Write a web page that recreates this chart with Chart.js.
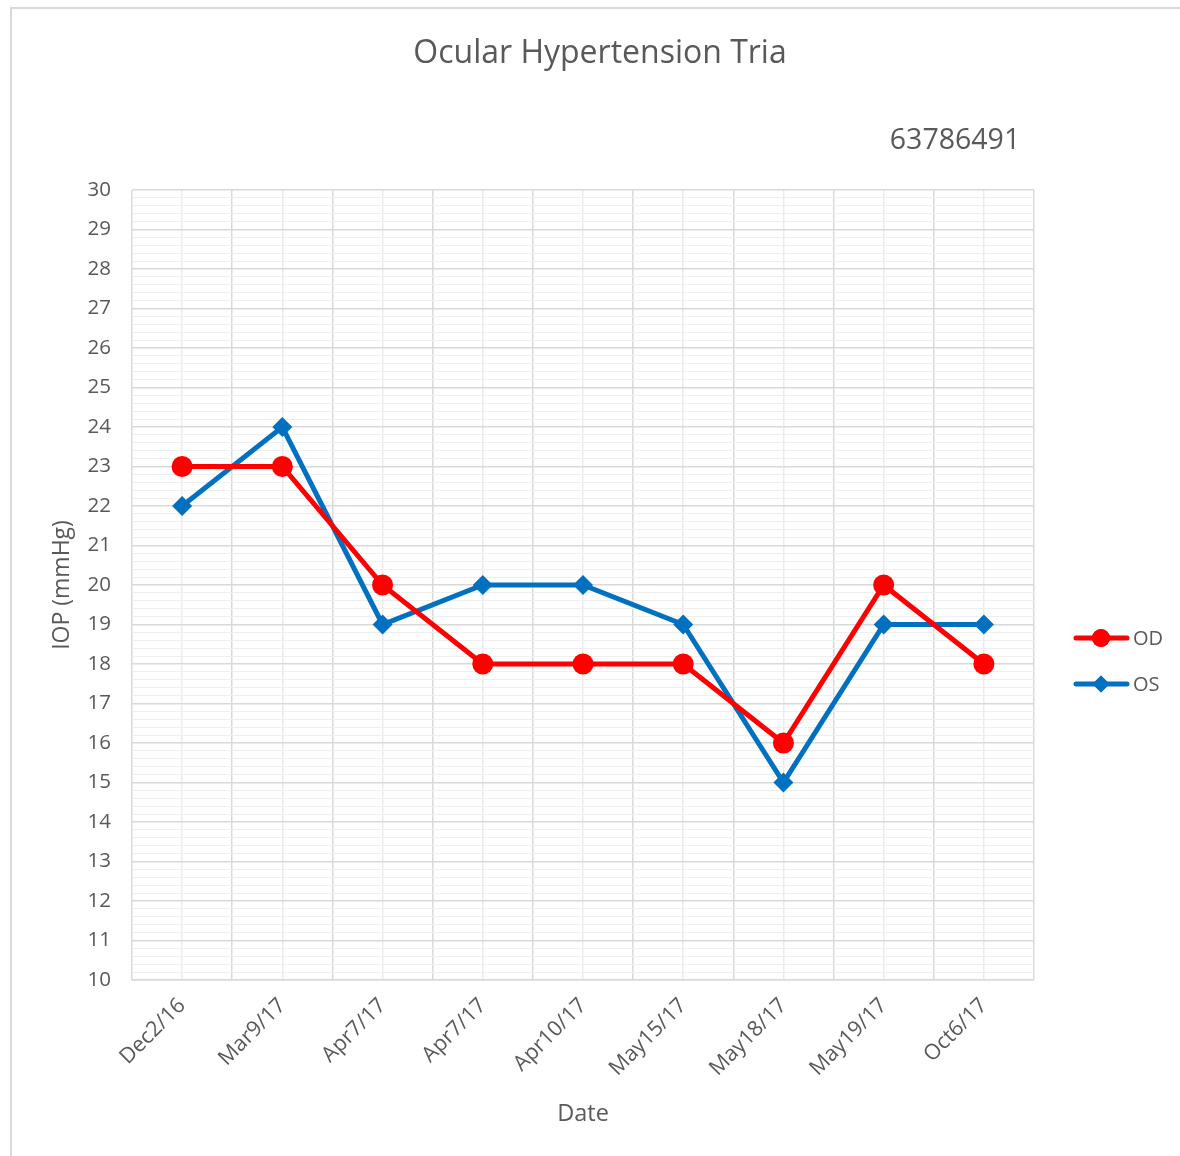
<!DOCTYPE html>
<html>
<head>
<meta charset="utf-8">
<script src="https://cdn.jsdelivr.net/npm/chart.js@4/dist/chart.umd.min.js"></script>
<style>
  html, body { margin: 0; padding: 0; background: #ffffff; }
  #wrap { position: relative; width: 1180px; height: 1156px; }
</style>
</head>
<body>
<div id="wrap"><canvas id="c" width="1180" height="1156"></canvas></div>
<script>
const categories = ["Dec2/16", "Mar9/17", "Apr7/17", "Apr7/17", "Apr10/17", "May15/17", "May18/17", "May19/17", "Oct6/17"];
const odValues = [23, 23, 20, 18, 18, 18, 16, 20, 18];
const osValues = [22, 24, 19, 20, 20, 19, 15, 19, 19];
const chartTitle = "Ocular Hypertension Tria";
const chartSubtitle = "63786491";
const yAxisTitle = "IOP (mmHg)";
const xAxisTitle = "Date";
const yMin = 10, yMax = 30;

const FONT = "'Open Sans', 'DejaVu Sans', sans-serif";
const TXT = '#595959';
const RED = '#ff0000';
const BLUE = '#0070c0';

function isInt(v) { return Math.abs(v - Math.round(v)) < 1e-6; }

const decor = {
  id: 'decor',
  beforeDraw(chart) {
    const ctx = chart.ctx;
    ctx.save();
    ctx.strokeStyle = '#d9d9d9';
    ctx.lineWidth = 2;
    ctx.strokeRect(11, 8, 1200, 1200);
    ctx.restore();
  },
  afterDraw(chart) {
    const ctx = chart.ctx;
    ctx.save();
    ctx.fillStyle = TXT;
    ctx.textAlign = 'center';
    ctx.textBaseline = 'middle';
    ctx.font = "32px " + FONT;
    ctx.fillText(chartTitle, 600, 54);
    ctx.font = "28.5px " + FONT;
    ctx.fillText(chartSubtitle, 955, 141);
    // legend
    const items = [
      {label: 'OD', color: RED, style: 'circle', r: 9, y: 638},
      {label: 'OS', color: BLUE, style: 'rectRot', r: 8.5, y: 684}
    ];
    items.forEach(it => {
      ctx.strokeStyle = it.color;
      ctx.lineWidth = 5;
      ctx.lineCap = 'round';
      ctx.beginPath();
      ctx.moveTo(1076, it.y);
      ctx.lineTo(1127, it.y);
      ctx.stroke();
      ctx.fillStyle = it.color;
      Chart.helpers.drawPoint(ctx, {pointStyle: it.style, radius: it.r, rotation: 0, borderWidth: 0}, 1101, it.y);
      ctx.fill();
      ctx.fillStyle = TXT;
      ctx.textAlign = 'left';
      ctx.font = "20px " + FONT;
      ctx.fillText(it.label, 1133, it.y + 1);
    });
    ctx.restore();
  }
};

new Chart(document.getElementById('c'), {
  type: 'line',
  data: {
    labels: categories,
    datasets: [
      {
        label: 'OD', data: odValues, borderColor: RED, backgroundColor: RED,
        borderWidth: 5, pointStyle: 'circle', pointRadius: 10.5, pointHoverRadius: 10.5,
        pointBorderWidth: 0, tension: 0, xAxisID: 'x', yAxisID: 'y'
      },
      {
        label: 'OS', data: osValues, borderColor: BLUE, backgroundColor: BLUE,
        borderWidth: 5, pointStyle: 'rectRot', pointRadius: 10, pointHoverRadius: 10,
        pointBorderWidth: 0, tension: 0, xAxisID: 'x', yAxisID: 'y'
      }
    ]
  },
  options: {
    responsive: false,
    animation: false,
    events: [],
    layout: { padding: { top: 190, right: 146, bottom: 0, left: 0 } },
    plugins: {
      legend: { display: false },
      title: { display: false },
      tooltip: { enabled: false }
    },
    scales: {
      x: {
        type: 'category',
        position: 'bottom',
        offset: true,
        grid: { offset: true, color: '#d9d9d9', lineWidth: 1.5, drawTicks: false },
        border: { color: '#d9d9d9', width: 1.5 },
        ticks: {
          color: TXT, font: { family: FONT, size: 21.5 },
          maxRotation: 45, minRotation: 45, autoSkip: false, padding: 13
        },
        title: {
          display: true, text: xAxisTitle, color: TXT,
          font: { family: FONT, size: 23.5 }, padding: { top: 0, bottom: 28 }
        },
        afterFit(s) { s.height = 176; }
      },
      x2: {
        type: 'category',
        position: 'bottom',
        offset: true,
        labels: categories,
        grid: { offset: false, color: '#ebebeb', lineWidth: 1.5, drawTicks: false },
        border: { display: false },
        ticks: { display: false },
        afterFit(s) { s.height = 0; }
      },
      y: {
        type: 'linear',
        min: yMin, max: yMax,
        grid: {
          drawTicks: false,
          color: c => (c.tick && isInt(c.tick.value)) ? '#d9d9d9' : '#efefef',
          lineWidth: c => (c.tick && isInt(c.tick.value)) ? 1.5 : 1
        },
        border: { display: false },
        ticks: {
          stepSize: 0.2, maxTicksLimit: 500, autoSkip: false,
          color: TXT, font: { family: FONT, size: 20.5 }, padding: 21,
          callback: v => isInt(v) ? String(Math.round(v)) : ''
        },
        title: {
          display: true, text: yAxisTitle, color: TXT,
          font: { family: FONT, size: 23 }, padding: { top: 49, bottom: 0 }
        },
        afterFit(s) { s.width = 132; }
      }
    }
  },
  plugins: [decor]
});
</script>
</body>
</html>
